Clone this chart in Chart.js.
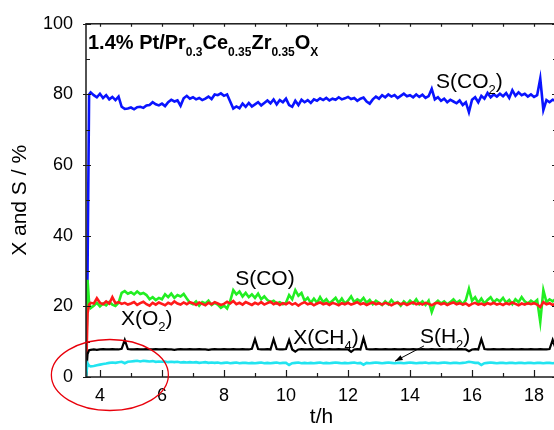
<!DOCTYPE html>
<html>
<head>
<meta charset="utf-8">
<script src="https://cdn.jsdelivr.net/npm/chart.js@4/dist/chart.umd.min.js"></script>
<style>
html,body{margin:0;padding:0;background:#fff;overflow:hidden;}
#wrap{width:560px;height:430px;}
</style>
</head>
<body>
<div id="wrap"><canvas id="c" width="560" height="430"></canvas></div>
<script>
// time (h)
const tHours = [3.55,3.6,3.65,3.7,3.8,3.9,
4.0,4.1,4.2,4.3,4.4,4.5,4.6,4.7,4.8,4.9,
5.0,5.1,5.2,5.3,5.4,5.5,5.6,5.7,5.8,5.9,
6.0,6.1,6.2,6.3,6.4,6.5,6.6,6.7,6.8,6.9,
7.0,7.1,7.2,7.3,7.4,7.5,7.6,7.7,7.8,7.9,
8.0,8.1,8.2,8.3,8.4,8.5,8.6,8.7,8.8,8.9,
9.0,9.1,9.2,9.3,9.4,9.5,9.6,9.7,9.8,9.9,
10.0,10.1,10.2,10.3,10.4,10.5,10.6,10.7,10.8,10.9,
11.0,11.1,11.2,11.3,11.4,11.5,11.6,11.7,11.8,11.9,
12.0,12.1,12.2,12.3,12.4,12.5,12.6,12.7,12.8,12.9,
13.0,13.1,13.2,13.3,13.4,13.5,13.6,13.7,13.8,13.9,
14.0,14.1,14.2,14.3,14.4,14.5,14.6,14.7,14.8,14.9,
15.0,15.1,15.2,15.3,15.4,15.5,15.6,15.7,15.8,15.9,
16.0,16.1,16.2,16.3,16.4,16.5,16.6,16.7,16.8,16.9,
17.0,17.1,17.2,17.3,17.4,17.5,17.6,17.7,17.8,17.9,
18.0,18.1,18.2,18.3,18.4,18.5,18.6,18.7,18.8,18.9,
19.0];

// S(CO2) %
const sCO2 = [0,30,80.0,80.6,79.8,79.2,
80.2,79.0,79.8,78.6,79.3,78.4,79.4,76.5,75.9,76.0,
76.3,75.8,76.4,76.5,76.2,76.9,77.0,77.8,77.2,76.9,
77.4,76.7,77.8,78.5,78.0,78.3,76.8,78.9,79.6,78.8,
79.2,78.6,79.0,78.4,78.8,79.4,78.7,80.0,79.8,80.3,
79.6,80.0,78.0,76.0,76.6,76.1,77.4,76.5,77.6,76.6,
77.2,77.8,76.9,77.6,78.3,77.5,78.6,77.2,78.4,77.8,
78.8,77.0,76.5,78.2,77.0,78.5,77.8,78.4,77.6,78.6,
78.2,78.9,78.4,79.0,78.3,78.8,78.5,79.2,78.6,78.9,
79.3,78.7,79.0,78.2,78.8,79.1,78.0,77.4,78.6,79.4,
78.8,79.8,79.2,80.0,79.4,79.8,79.0,79.6,80.2,79.5,
79.8,79.2,80.0,79.3,79.9,79.0,79.5,81.6,78.6,79.2,
78.2,78.8,77.8,78.5,78.0,77.5,78.3,77.0,77.8,75.0,
78.5,79.2,77.8,79.6,78.8,80.4,79.2,80.0,79.4,80.2,
79.5,80.4,79.0,81.2,79.6,80.6,79.8,80.2,79.4,80.0,
79.3,79.8,84.5,75.6,78.4,77.8,78.5,78.2,78.4,78.0,
78.3];

// S(CO) %
const sCO = [0,27.5,21.0,19.5,20.2,21.0,
20.0,20.8,20.3,21.2,20.5,20.1,21.0,23.8,24.3,23.6,
24.0,23.4,24.2,23.5,23.8,23.2,22.0,22.6,21.8,22.4,
22.0,23.4,22.6,23.6,22.4,23.2,22.8,23.5,22.2,21.0,
20.6,21.4,20.2,21.2,20.8,21.6,20.4,21.0,20.5,19.6,
20.2,19.4,21.5,24.6,23.4,24.2,22.8,23.8,22.6,23.4,
22.4,23.6,22.0,22.8,21.8,21.2,21.6,20.8,21.2,20.6,
21.0,23.2,22.0,24.6,23.0,23.8,21.6,22.4,21.0,22.2,
21.0,22.6,21.2,22.0,20.8,21.6,22.4,21.0,22.2,20.8,
21.6,22.8,21.2,22.0,21.4,22.4,21.0,21.8,20.6,21.6,
21.0,20.4,21.4,20.6,21.8,20.8,21.2,20.2,21.4,20.6,
21.6,20.8,22.0,20.6,21.4,20.4,21.6,18.4,20.8,21.6,
20.8,21.4,20.6,21.2,22.0,21.0,21.6,20.6,21.8,25.0,
21.6,22.6,21.0,22.2,20.8,21.8,22.6,21.2,22.0,21.4,
22.4,21.0,21.8,20.6,22.0,21.2,22.6,21.4,20.8,21.6,
21.0,21.8,15.6,24.6,21.2,22.0,21.4,22.2,21.0,21.6,
21.2];

// X(O2) %
const xO2 = [0,18.0,20.5,21.0,20.8,22.3,
21.0,20.6,21.4,20.8,22.6,20.9,21.2,20.7,21.0,20.5,
20.8,21.2,20.4,20.9,21.3,20.6,20.2,21.0,20.5,21.1,
20.7,20.3,21.0,20.6,21.4,20.8,20.5,21.1,20.6,21.2,
20.9,20.4,21.1,20.7,20.3,21.0,20.6,21.2,20.8,20.4,
20.7,21.3,20.8,21.5,20.6,21.0,20.5,21.2,20.8,20.4,
21.0,20.6,21.2,20.5,20.9,21.3,20.6,21.0,20.4,20.9,
20.6,21.1,20.5,20.9,20.2,20.8,21.2,20.6,20.9,20.3,
20.8,21.1,20.6,20.9,20.4,21.0,20.7,20.3,20.9,20.6,
21.0,20.5,20.8,21.2,20.6,20.9,20.4,20.8,21.1,20.6,
20.9,20.5,21.0,20.7,20.3,20.8,21.0,20.6,20.9,20.4,
20.8,21.1,20.6,20.9,20.5,21.0,20.7,20.3,20.8,21.0,
20.6,20.9,20.4,20.8,21.1,20.6,20.9,20.5,20.8,20.2,
20.7,21.0,20.5,20.8,20.4,20.9,20.6,21.0,20.5,20.8,
20.4,20.9,20.6,21.1,20.7,20.3,20.8,20.5,20.9,20.6,
20.9,20.5,19.8,21.2,20.6,20.9,20.4,20.8,20.5,20.7,
20.6];

// X(CH4) %
const xCH4 = [0,6.5,7.6,7.7,7.8,7.7,
7.8,7.9,7.8,7.8,7.9,7.8,7.8,8.0,10.5,7.9,
7.8,7.8,7.9,7.8,7.8,7.9,7.8,7.8,7.9,7.8,
7.8,7.9,7.8,7.8,7.7,7.8,7.9,7.8,7.8,7.9,
7.8,7.8,7.9,7.8,7.8,7.7,7.8,7.9,7.8,7.8,
7.9,7.8,7.8,7.9,7.8,7.8,7.9,7.8,7.8,8.0,
10.7,7.9,7.8,7.8,7.9,7.8,10.7,7.9,7.8,7.8,
7.9,10.5,7.8,7.2,7.8,7.9,7.8,7.8,7.9,7.8,
7.8,7.9,7.8,7.8,7.9,7.8,7.8,7.9,7.8,7.8,
7.8,7.1,7.8,7.9,7.8,11.0,7.9,7.8,7.8,7.9,
7.8,7.8,7.9,7.8,7.8,7.9,7.8,7.8,7.9,7.8,
7.8,7.9,7.8,7.8,7.9,7.8,7.8,7.9,7.8,7.8,
7.9,7.8,7.8,7.9,7.8,7.8,7.9,7.8,7.8,7.3,
7.8,7.9,7.8,10.7,7.9,7.8,7.8,7.9,7.8,7.8,
7.9,7.8,7.8,7.9,7.8,7.8,7.9,7.8,7.8,7.9,
7.8,7.8,7.9,7.8,7.8,7.9,10.5,7.9,7.8,7.8,
7.8];

// S(H2) %
const sH2 = [0,3.9,3.2,3.0,3.1,3.3,
3.5,3.7,3.8,4.0,4.1,4.0,4.2,4.3,3.9,4.3,
4.4,4.5,4.6,4.4,4.6,4.5,4.4,4.5,4.3,4.4,
4.3,4.4,4.2,4.3,4.2,4.3,4.1,4.2,4.1,4.2,
4.1,4.2,4.0,4.1,4.2,4.0,4.1,4.0,4.1,3.9,
4.0,4.1,3.9,4.0,4.1,3.9,4.0,4.0,3.9,4.0,
3.9,4.0,4.1,3.9,4.0,3.9,4.0,4.1,3.9,4.0,
4.0,3.4,3.9,4.0,4.1,3.9,4.0,3.9,4.0,3.9,
4.0,4.1,3.9,4.0,3.9,4.0,4.1,4.0,3.9,4.0,
3.9,4.0,4.1,3.9,4.0,3.5,4.0,3.9,4.0,4.1,
4.0,3.9,4.0,4.1,4.0,3.9,4.0,4.0,3.9,4.0,
4.1,4.0,3.9,4.0,4.0,4.1,3.9,4.0,4.0,3.9,
4.0,4.1,4.0,3.9,4.0,4.0,3.9,4.0,4.1,4.3,
4.2,4.0,4.0,3.4,3.9,4.0,4.1,4.0,3.9,4.0,
4.0,3.9,4.0,4.0,3.9,4.0,4.0,3.9,4.0,4.0,
3.9,4.0,4.0,3.9,4.0,4.0,3.9,4.0,4.0,3.9,
4.0];

const xTickLabels = [4,6,8,10,12,14,16,18];
const yTickLabels = [0,20,40,60,80,100];
const xTickMarks = [4,5,6,7,8,9,10,11,12,13,14,15,16,17,18];
const yTickMarks = [0,10,20,30,40,50,60,70,80,90,100];

const FONT = "'Liberation Sans', Arial, sans-serif";

function pts(vals){ return tHours.map((t,i)=>({x:t,y:vals[i]})); }

// annotation texts, positioned in data units
const labels = [
  {parts:[['S(CO',0],['2',1],[')',0]], t:14.84, v:81.9},
  {parts:[['S(CO)',0]], t:8.36, v:26.0},
  {parts:[['X(O',0],['2',1],[')',0]], t:4.68, v:14.7},
  {parts:[['X(CH',0],['4',1],[')',0]], t:10.23, v:9.3},
  {parts:[['S(H',0],['2',1],[')',0]], t:14.32, v:9.6}
];
const arrow = {t0:14.45, v0:8.8, t1:13.52, v1:4.5};
const ellipse = {t:4.32, v:0.56};

const titleParts = [['1.4% Pt/Pr',0],['0.3',1],['Ce',0],['0.35',1],['Zr',0],['0.35',1],['O',0],['X',1]];

function drawRich(ctx, x, y, parts, big, small, weight, subDy){
  let cx = x;
  for (const [s, sub] of parts){
    ctx.font = weight + ' ' + (sub ? small : big) + 'px ' + FONT;
    ctx.fillText(s, cx, sub ? y + subDy : y);
    cx += ctx.measureText(s).width;
  }
}

const decor = {
  id:'decor',
  afterDatasetsDraw(chart){
    const {ctx, chartArea:a, scales:{x, y}} = chart;
    ctx.save();
    ctx.strokeStyle = '#1a1a1a';
    ctx.lineWidth = 1.5;
    ctx.strokeRect(a.left, a.top, a.right - a.left, a.bottom - a.top);
    ctx.lineWidth = 1.2;
    ctx.beginPath();
    for (const v of yTickMarks){
      const py = Math.round(y.getPixelForValue(v)) + 0.5;
      const L = (v % 20 === 0) ? 5 : 4;
      if (v % 20 === 0){ ctx.moveTo(a.left - 3, py); ctx.lineTo(a.left + L, py); }
      else { ctx.moveTo(a.left, py); ctx.lineTo(a.left + L, py); }
      ctx.moveTo(a.right, py); ctx.lineTo(a.right - L, py);
    }
    for (const v of xTickMarks){
      const px = Math.round(x.getPixelForValue(v)) + 0.5;
      const L = (v % 2 === 0) ? 7 : 4;
      ctx.moveTo(px, a.bottom); ctx.lineTo(px, a.bottom - L);
      ctx.moveTo(px, a.top); ctx.lineTo(px, a.top + 3);
    }
    ctx.stroke();

    // title
    ctx.fillStyle = '#000';
    ctx.textBaseline = 'alphabetic';
    drawRich(ctx, a.left + 2, a.top + 25, titleParts, 20, 12, 'bold', 7);

    // annotations
    for (const lb of labels){
      drawRich(ctx, x.getPixelForValue(lb.t), y.getPixelForValue(lb.v), lb.parts, 21, 13, 'normal', 6);
    }

    // arrow
    const x0 = x.getPixelForValue(arrow.t0), y0 = y.getPixelForValue(arrow.v0);
    const x1 = x.getPixelForValue(arrow.t1), y1 = y.getPixelForValue(arrow.v1);
    ctx.strokeStyle = '#000'; ctx.lineWidth = 1;
    ctx.beginPath(); ctx.moveTo(x0, y0); ctx.lineTo(x1, y1); ctx.stroke();
    const ang = Math.atan2(y1 - y0, x1 - x0);
    ctx.beginPath();
    ctx.moveTo(x1, y1);
    ctx.lineTo(x1 - 8*Math.cos(ang - 0.35), y1 - 8*Math.sin(ang - 0.35));
    ctx.lineTo(x1 - 8*Math.cos(ang + 0.35), y1 - 8*Math.sin(ang + 0.35));
    ctx.closePath(); ctx.fill();

    // red ellipse
    ctx.strokeStyle = '#e8000b'; ctx.lineWidth = 1.3;
    ctx.beginPath();
    ctx.ellipse(x.getPixelForValue(ellipse.t), y.getPixelForValue(ellipse.v), 58.5, 35.5, 0, 0, Math.PI*2);
    ctx.stroke();
    ctx.restore();
  }
};

function ds(label, vals, color, w){
  return {label, data: pts(vals), borderColor: color, backgroundColor: color,
          borderWidth: w, pointRadius: 0, tension: 0, fill: false};
}

new Chart(document.getElementById('c'), {
  type: 'line',
  data: {
    datasets: [
      ds('S(H2)', sH2, '#22e4f0', 2.6),
      ds('X(CH4)', xCH4, '#000000', 2.2),
      ds('X(O2)', xO2, '#ff1a1a', 2.6),
      ds('S(CO)', sCO, '#22ee22', 2.6),
      ds('S(CO2)', sCO2, '#0a14ff', 2.6)
    ]
  },
  options: {
    responsive: false,
    animation: false,
    events: [],
    layout: {padding: {top: 23, right: 3, left: 0, bottom: 0}},
    plugins: {legend: {display: false}, tooltip: {enabled: false}},
    scales: {
      x: {
        type: 'linear', min: 3.55, max: 18.74,
        grid: {display: false, drawTicks: false},
        border: {display: false},
        afterBuildTicks: s => { s.ticks = xTickLabels.map(v => ({value: v})); },
        afterFit: s => { s.height = 53; },
        ticks: {color: '#000', padding: 8, font: {family: FONT, size: 18}, maxRotation: 0, autoSkip: false},
        title: {display: true, text: 't/h', color: '#000', font: {family: FONT, size: 21}, padding: {top: 0, bottom: 0}}
      },
      y: {
        min: 0, max: 100,
        grid: {display: false, drawTicks: false},
        border: {display: false},
        afterBuildTicks: s => { s.ticks = yTickLabels.map(v => ({value: v})); },
        afterFit: s => { s.width = 86; },
        ticks: {color: '#000', padding: 13, font: {family: FONT, size: 18}},
        title: {display: true, text: 'X and S / %', color: '#000', font: {family: FONT, size: 21}, padding: {top: 8, bottom: 0}}
      }
    }
  },
  plugins: [decor]
});
</script>
</body>
</html>
